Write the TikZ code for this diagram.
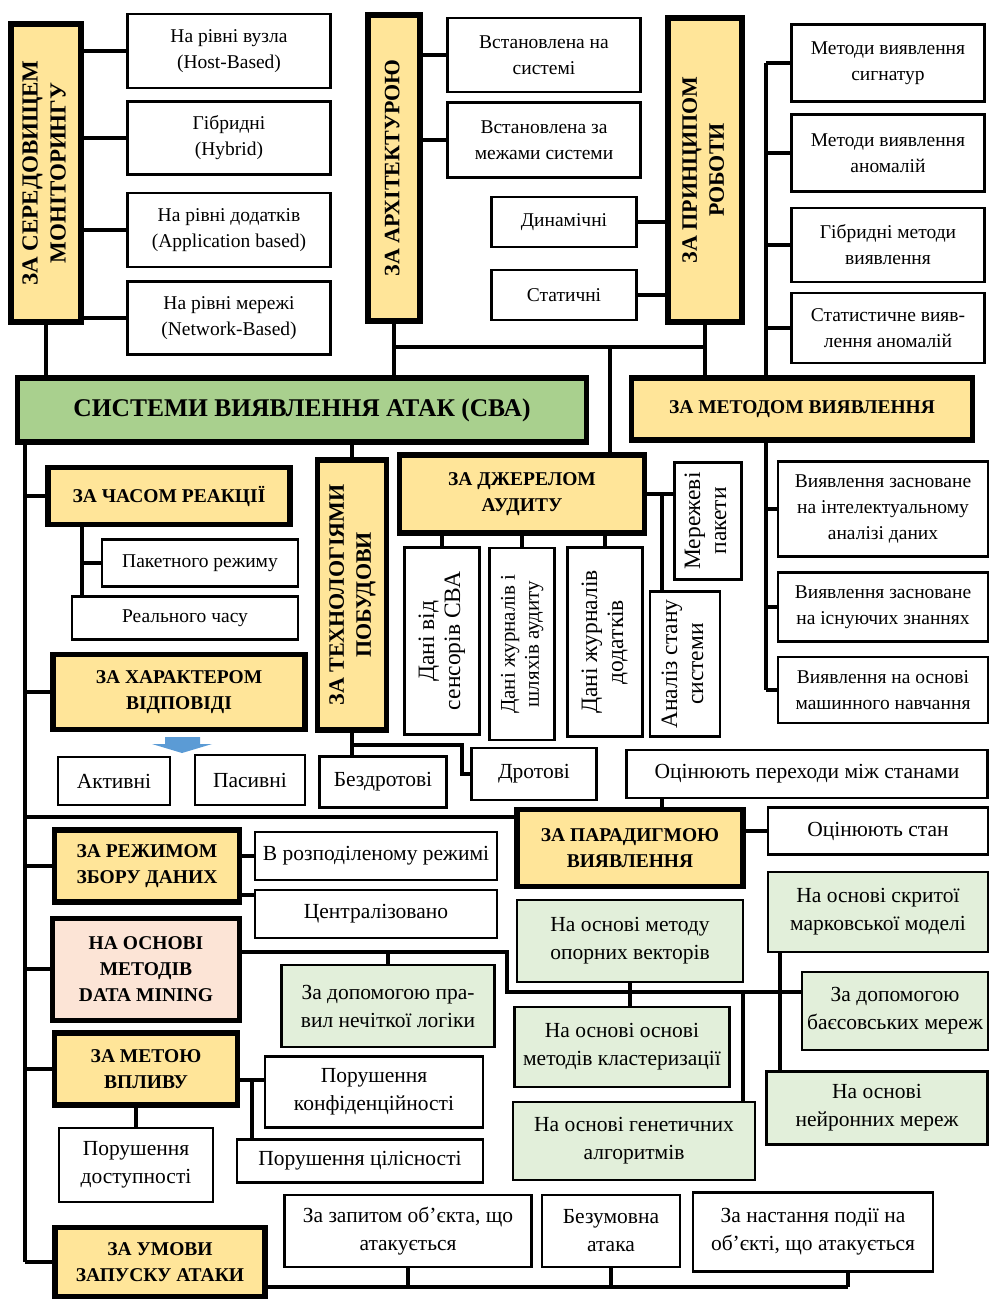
\documentclass[tikz,border=0pt]{standalone}
\usepackage{fontspec}
\setmainfont{Liberation Serif}
\usepackage{xcolor}
\usepackage{tikz}
\usetikzlibrary{positioning, calc, backgrounds}
\definecolor{catyellow}{RGB}{255,229,153}
\definecolor{rootgreen}{RGB}{169,208,142}
\definecolor{mlgreen}{RGB}{226,239,218}
\definecolor{dmpink}{RGB}{252,228,214}
\definecolor{hintblue}{RGB}{91,155,213}
\newcommand{\vtext}[1]{\rotatebox{90}{\begin{tabular}{@{}c@{}}#1\end{tabular}}}

\begin{document}
\begin{tikzpicture}[
  x=1pt, y=-1pt,
  sized/.style 2 args={draw, outer sep=0pt, inner sep=2pt, align=center, minimum width=#1, minimum height=#2},
  leaf/.style={line width=2.8pt, fill=white, font=\fontsize{19.5}{26}\selectfont},
  lleaf/.style={leaf, font=\fontsize{21.5}{28}\selectfont},
  mleaf/.style={lleaf, fill=mlgreen},
  vleaf/.style={leaf, font=\fontsize{23.5}{26}\selectfont},
  cat/.style={line width=5.5pt, fill=catyellow, font=\fontsize{19.5}{26}\selectfont\bfseries},
  vcat/.style={cat, font=\fontsize{22}{27}\selectfont\bfseries},
  link/.style={line width=4pt}
]
\useasboundingbox (0,0) rectangle (989,1300);

% top row
\node[sized={70}{298}, vcat, font=\fontsize{23}{28}\selectfont\bfseries] (sered) at (46,173) {\vtext{ЗА СЕРЕДОВИЩЕМ\\МОНІТОРИНГУ}};
\node[sized={203}{74}, leaf] (host) at (229,51) {На рівні вузла\\(Host-Based)};
\node[sized={203}{73}, leaf] (hybrid) at (229,138) {Гібридні\\(Hybrid)};
\node[sized={203}{74}, leaf] (appl) at (229,230) {На рівні додатків\\(Application based)};
\node[sized={203}{73}, leaf] (netw) at (229,318) {На рівні мережі\\(Network-Based)};
\node[sized={52}{306}, vcat] (arch) at (394,168) {\vtext{ЗА АРХІТЕКТУРОЮ}};
\node[sized={193}{74}, leaf] (onsys) at (544,55) {Встановлена на\\системі};
\node[sized={193}{75}, leaf] (outsys) at (544,140) {Встановлена за\\межами системи};
\node[sized={145}{50}, leaf] (dyn) at (564,222) {Динамічні};
\node[sized={145}{50}, leaf] (stat) at (564,295) {Статичні};
\node[sized={74}{304}, vcat] (princ) at (705,170) {\vtext{ЗА ПРИНЦИПОМ\\РОБОТИ}};
\node[sized={193}{77}, leaf] (sig) at (888,63) {Методи виявлення\\сигнатур};
\node[sized={193}{77}, leaf] (anom) at (888,153) {Методи виявлення\\аномалій};
\node[sized={193}{74}, leaf] (hybm) at (888,245) {Гібридні методи\\виявлення};
\node[sized={193}{70}, leaf] (stan) at (888,328) {Статистичне вияв-\\лення аномалій};

\node[sized={569}{64}, line width=5.5pt, fill=rootgreen, font=\fontsize{25.5}{30}\selectfont\bfseries] (root) at (302,410) {СИСТЕМИ ВИЯВЛЕННЯ АТАК (СВА)};
\node[sized={341}{62}, cat] (method) at (802,409) {ЗА МЕТОДОМ ВИЯВЛЕННЯ};

% middle
\node[sized={242}{57}, cat] (time) at (169,496) {ЗА ЧАСОМ РЕАКЦІЇ};
\node[sized={196}{47}, leaf] (packet) at (200,563) {Пакетного режиму};
\node[sized={226}{43}, leaf] (realtime) at (185,618) {Реального часу};
\node[sized={252}{75}, cat] (resp) at (179,692) {ЗА ХАРАКТЕРОМ\\ВІДПОВІДІ};
\node[sized={112}{48}, lleaf] (active) at (114,781) {Активні};
\node[sized={110}{50}, lleaf] (passive) at (250,780) {Пасивні};
\node[sized={69}{270}, vcat] (tech) at (352,595) {\vtext{ЗА ТЕХНОЛОГІЯМИ\\ПОБУДОВИ}};
\node[sized={127}{51}, lleaf] (wless) at (383,782) {Бездротові};
\node[sized={125}{52}, lleaf] (wired) at (534,774) {Дротові};
\node[sized={245}{78}, cat] (audit) at (522,494) {ЗА ДЖЕРЕЛОМ\\АУДИТУ};
\node[sized={75}{187}, vleaf] (sens) at (442,641) {\vtext{Дані від\\сенсорів СВА}};
\node[sized={65}{192}, vleaf, font=\fontsize{21}{24}\selectfont] (jlog) at (522,644) {\vtext{Дані журналів і\\шляхів аудиту}};
\node[sized={75}{189}, vleaf] (applog) at (605,642) {\vtext{Дані журналів\\додатків}};
\node[sized={67}{117}, vleaf] (netpk) at (708,521) {\vtext{Мережеві\\пакети}};
\node[sized={70}{145}, vleaf] (sysst) at (685,664) {\vtext{Аналіз стану\\системи}};
\node[sized={210}{95}, leaf] (intel) at (883,509) {Виявлення засноване\\на інтелектуальному\\аналізі даних};
\node[sized={210}{69}, leaf] (know) at (883,607) {Виявлення засноване\\на існуючих знаннях};
\node[sized={210}{66}, leaf] (ml) at (883,690) {Виявлення на основі\\машинного навчання};
\node[sized={361}{48}, lleaf] (trans) at (807,774) {Оцінюють переходи між станами};
\node[sized={226}{77}, cat] (parad) at (630,848) {ЗА ПАРАДИГМОЮ\\ВИЯВЛЕННЯ};
\node[sized={220}{47}, lleaf] (state) at (878,831) {Оцінюють стан};

% bottom
\node[sized={185}{72}, cat] (collect) at (147,866) {ЗА РЕЖИМОМ\\ЗБОРУ ДАНИХ};
\node[sized={242}{48}, lleaf] (distr) at (376,856) {В розподіленому режимі};
\node[sized={242}{48}, lleaf] (central) at (376,914) {Централізовано};
\node[sized={187}{102}, cat, line width=5pt, fill=dmpink] (dm) at (146,969) {НА ОСНОВІ\\МЕТОДІВ\\DATA MINING};
\node[sized={213}{82}, mleaf] (fuzzy) at (388,1006) {За допомогою пра-\\вил нечіткої логіки};
\node[sized={226}{82}, mleaf] (svm) at (630,941) {На основі методу\\опорних векторів};
\node[sized={215}{80}, mleaf] (clust) at (622,1047) {На основі основі\\методів кластеризації};
\node[sized={242}{78}, mleaf] (genet) at (634,1141) {На основі генетичних\\алгоритмів};
\node[sized={220}{80}, mleaf] (hmm) at (878,912) {На основі скритої\\марковської моделі};
\node[sized={186}{78}, mleaf] (bayes) at (895,1011) {За допомогою\\баєсовських мереж};
\node[sized={221}{73}, mleaf] (neur) at (877,1108) {На основі\\нейронних мереж};
\node[sized={183}{72}, cat] (goal) at (146,1069) {ЗА МЕТОЮ\\ВПЛИВУ};
\node[sized={154}{74}, lleaf] (avail) at (136,1165) {Порушення\\доступності};
\node[sized={218}{71}, lleaf] (conf) at (374,1092) {Порушення\\конфіденційності};
\node[sized={246}{43}, lleaf] (integ) at (360,1161) {Порушення цілісності};
\node[sized={210}{69}, cat] (launch) at (160,1262) {ЗА УМОВИ\\ЗАПУСКУ АТАКИ};
\node[sized={247}{72}, lleaf] (req) at (408,1231) {За запитом об’єкта, що\\атакується};
\node[sized={138}{72}, lleaf] (uncond) at (611,1231) {Безумовна\\атака};
\node[sized={240}{79}, lleaf] (event) at (813,1232) {За настання події на\\об’єкті, що атакується};

\fill[hintblue] (165,737) -- (200,737) -- (200,744) -- (212,744) -- (182,753) -- (152,744) -- (165,744) -- cycle;

\begin{scope}[on background layer]
  % upper part
  \draw[link] (sered.south) -- (sered.south |- root.north);
  \foreach \n in {host, hybrid, appl, netw}
    \draw[link] (\n.west) -- (\n.west -| sered.east);
  \draw[link] (arch.south) -- (arch.south |- root.north);
  \foreach \n in {onsys, outsys}
    \draw[link] (\n.west) -- (\n.west -| arch.east);
  \foreach \n in {dyn, stat}
    \draw[link] (\n.east) -- (\n.east -| princ.west);
  \coordinate (topbus) at (610,347);
  \draw[link] (arch.south |- topbus) -- (princ.south |- topbus);
  \draw[link] (princ.south) -- (princ.south |- method.north);
  \draw[link] (topbus) -- (topbus |- audit.north);
  \coordinate (mbus) at ([xshift=-26pt]sig.west);
  \draw[link] (mbus) -- (mbus |- method.north);
  \foreach \n in {sig, anom, hybm, stan}
    \draw[link] (\n.west) -- (\n.west -| mbus);
  \draw[link] (method.south -| mbus) -- (mbus |- ml.west);
  \foreach \n in {intel, know, ml}
    \draw[link] (\n.west) -- (\n.west -| mbus);
  % left spine
  \coordinate (spine) at (25,817);
  \draw[link] (spine |- root.south) -- (spine |- launch.west);
  \foreach \n in {time, resp, collect, dm, goal, launch}
    \draw[link] (\n.west) -- (\n.west -| spine);
  \draw[link] (spine) -- (spine -| parad.west);
  \coordinate (tbus) at (82,0);
  \draw[link] (tbus |- time.south) -- (tbus |- realtime.north);
  \draw[link] (packet.west) -- (packet.west -| tbus);
  % technology and audit
  \draw[link] (tech.north) -- (tech.north |- root.south);
  \draw[link] (tech.south) -- (tech.south |- wless.north);
  \coordinate (tw) at (462,745);
  \draw[link] (tech.south |- tw) -- (tw) |- (wired.west);
  \foreach \n in {sens, jlog, applog}
    \draw[link] (\n.north) -- (\n.north |- audit.south);
  \draw[link] (audit.east) -- (audit.east -| netpk.west);
  \coordinate (ax) at (662,0);
  \draw[link] (ax |- audit.east) -- (ax |- sysst.north);
  \draw[link] (ax |- trans.south) -- (ax |- parad.north);
  \draw[link] (state.west) -- (state.west -| parad.east);
  % collection
  \draw[link] (distr.west) -- (distr.west -| collect.east);
  \draw[link] ([yshift=-5pt]central.north west) -- ([yshift=-5pt]central.north west -| collect.east);
  % data mining
  \coordinate (dmA) at (507,952);
  \coordinate (dmB) at (507,992);
  \draw[link] (dm.east |- dmA) -- (dmA) -- (dmB) -- (dmB -| bayes.west);
  \draw[link] (fuzzy.north) -- (fuzzy.north |- dmA);
  \draw[link] (svm.south) -- (svm.south |- clust.north);
  \coordinate (gx) at (743,0);
  \draw[link] (gx |- dmB) -- (gx |- genet.north);
  \coordinate (hx) at (780,0);
  \draw[link] (hx |- hmm.south) -- (hx |- neur.north);
  % goal
  \coordinate (gb) at (252,1080);
  \draw[link] (goal.east |- gb) -- (gb -| conf.west);
  \draw[link] (gb) -- (gb |- integ.north);
  \draw[link] (avail.north) -- (avail.north |- goal.south);
  % launch
  \coordinate (lb) at (848,1287);
  \draw[link] (launch.east |- lb) -- (lb);
  \draw[link] (lb) -- (lb |- event.south);
  \foreach \n in {req, uncond}
    \draw[link] (\n.south) -- (\n.south |- lb);
\end{scope}
\end{tikzpicture}
\end{document}
